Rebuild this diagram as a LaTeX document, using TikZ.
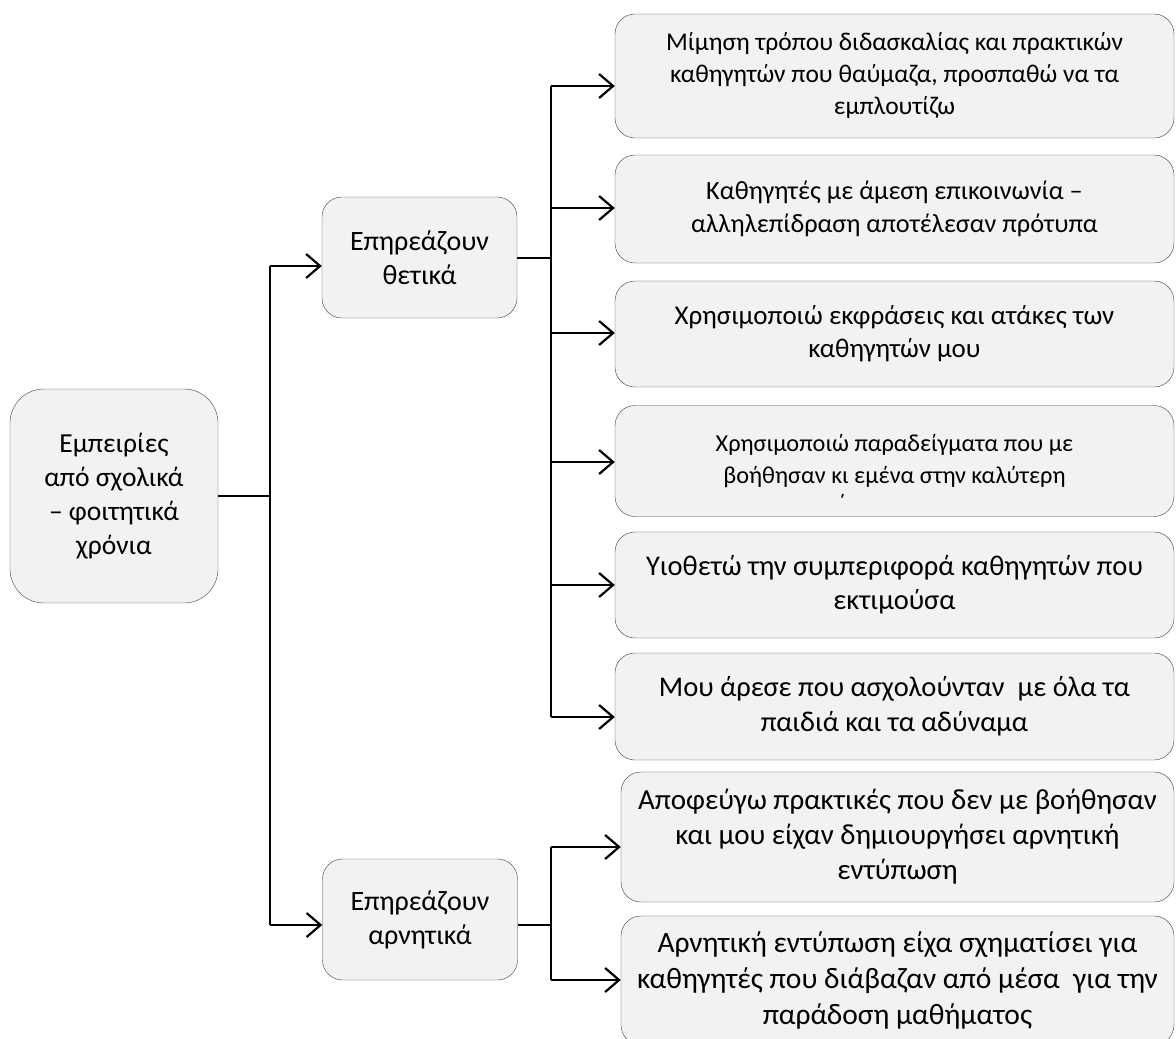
\documentclass[tikz,border=0pt]{standalone}
\usepackage{fontspec}
\setmainfont{Carlito}
\usetikzlibrary{arrows.meta, positioning}

\begin{document}
\begin{tikzpicture}[x=1pt, y=-1pt,
  box/.style={draw=black!75, fill=black!5, rounded corners=20pt, align=center, inner sep=0pt},
  wire/.style={line width=2.2pt},
  link/.style={wire, -{Straight Barb[length=14pt, width=24pt]}}]

\clip (0,0) rectangle (1176,1039);

\node[box, minimum width=208pt, minimum height=214pt, rounded corners=34pt,
  font=\fontsize{27.5}{34}\selectfont] (src) at (114,496)
  {Εμπειρίες\\από σχολικά\\– φοιτητικά\\χρόνια};

\node[box, minimum width=195pt, minimum height=121pt, font=\fontsize{28}{34}\selectfont] (pos)
  at (419.5,257.5) {Επηρεάζουν\\θετικά};
\node[box, minimum width=195pt, minimum height=121pt, font=\fontsize{28}{34}\selectfont] (neg)
  at (420,919.5) {Επηρεάζουν\\αρνητικά};

\node[box, minimum width=559pt, minimum height=124pt, font=\fontsize{25.5}{32}\selectfont] (b1)
  at (894.5,76)
  {Μίμηση τρόπου διδασκαλίας και πρακτικών\\καθηγητών που θαύμαζα, προσπαθώ να τα\\εμπλουτίζω};
\node[box, minimum width=559pt, minimum height=108pt, font=\fontsize{26.3}{33}\selectfont] (b2)
  at (894.5,209)
  {Καθηγητές με άμεση επικοινωνία –\\αλληλεπίδραση αποτέλεσαν πρότυπα};
\node[box, minimum width=559pt, minimum height=106pt, font=\fontsize{27}{33}\selectfont] (b3)
  at (894.5,334)
  {Χρησιμοποιώ εκφράσεις και ατάκες των\\καθηγητών μου};
\node[box, minimum width=559pt, minimum height=111pt, font=\fontsize{24.3}{32}\selectfont] (b4)
  at (894.5,461)
  {Χρησιμοποιώ παραδείγματα που με\\βοήθησαν κι εμένα στην καλύτερη};
\node[font=\fontsize{24.3}{32}\selectfont, inner sep=0pt] (tonos) at (842,503) {΄};
\node[box, minimum width=559pt, minimum height=106pt, font=\fontsize{28.5}{34}\selectfont] (b5)
  at (894.5,585)
  {Υιοθετώ την συμπεριφορά καθηγητών που\\εκτιμούσα};
\node[box, minimum width=559pt, minimum height=107pt, font=\fontsize{28.5}{35}\selectfont] (b6)
  at (894.5,706.5)
  {Μου άρεσε που ασχολούνταν \ με όλα τα\\παιδιά και τα αδύναμα};

\node[box, minimum width=553pt, minimum height=130pt, font=\fontsize{29}{35}\selectfont] (b7)
  at (897.5,837)
  {Αποφεύγω πρακτικές που δεν με βοήθησαν\\και μου είχαν δημιουργήσει αρνητική\\εντύπωση};
\node[box, minimum width=553pt, minimum height=129pt, font=\fontsize{29.5}{36}\selectfont] (b8)
  at (897.5,980.5)
  {Αρνητική εντύπωση είχα σχηματίσει για\\καθηγητές που διάβαζαν από μέσα \ για την\\παράδοση μαθήματος};

% first split
\coordinate (t1) at (270,496);
\coordinate (p1) at (270,266);
\coordinate (n1) at (270,925);
\draw[wire] (src.east) -- (t1);
\draw[wire] (p1) -- (n1);
\draw[link] (p1) -- (pos.west |- p1);
\draw[link] (n1) -- (neg.west |- n1);

% positive branch
\coordinate (t2) at (551,258);
\coordinate (a1) at (551,86);
\coordinate (a2) at (551,208);
\coordinate (a3) at (551,333);
\coordinate (a4) at (551,462);
\coordinate (a5) at (551,585);
\coordinate (a6) at (551,717);
\draw[wire] (pos.east |- t2) -- (t2);
\draw[wire] (a1) -- (a6);
\path
(a1) edge[link] (b1.west |- a1)
(a2) edge[link] (b2.west |- a2)
(a3) edge[link] (b3.west |- a3)
(a4) edge[link] (b4.west |- a4)
(a5) edge[link] (b5.west |- a5)
(a6) edge[link] (b6.west |- a6);

% negative branch
\coordinate (t3) at (551,925);
\coordinate (a7) at (551,847);
\coordinate (a8) at (551,980);
\draw[wire] (neg.east |- t3) -- (t3);
\draw[wire] (a7) -- (a8);
\path
(a7) edge[link] (b7.west |- a7)
(a8) edge[link] (b8.west |- a8);

\end{tikzpicture}
\end{document}
